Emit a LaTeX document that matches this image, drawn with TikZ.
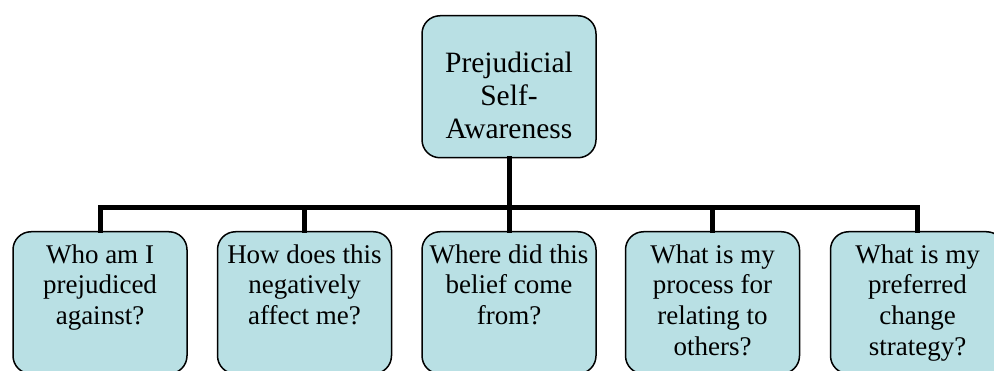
\documentclass[tikz,border=0pt]{standalone}
\usepackage{fontspec}
\setmainfont{Liberation Serif}
\definecolor{boxfill}{RGB}{185,224,228}
\begin{document}
\begin{tikzpicture}[x=1pt,y=-1pt,
  box/.style={draw=black,line width=1.5pt,fill=boxfill,rounded corners=18pt,
    minimum width=174pt,minimum height=142pt,inner sep=0pt,anchor=north},
  toptext/.style={anchor=north,inner sep=0pt,align=center,font=\fontsize{29.5}{33}\selectfont},
  bottext/.style={anchor=north,inner sep=0pt,align=center,font=\fontsize{27}{30.7}\selectfont},
  conn/.style={line width=5pt,line join=miter,line cap=rect}]
\clip (0,0) rectangle (994,371);
\fill[white] (0,0) rectangle (994,371);
% boxes
\node[box] (top) at (509,15) {};
\node[box] (b1) at (100,231) {};
\node[box] (b2) at (304.5,231) {};
\node[box] (b3) at (509,231) {};
\node[box] (b4) at (712.5,231) {};
\node[box] (b5) at (917.5,231) {};
% texts
\node[toptext] (ttop) at (509,50) {\rule{0pt}{22pt}Prejudicial\\Self-\\Awareness};
\node[bottext] (t1) at (100,243) {\rule{0pt}{20pt}Who am I\\prejudiced\\against?};
\node[bottext] (t2) at (304.5,243) {\rule{0pt}{20pt}How does this\\negatively\\affect me?};
\node[bottext] (t3) at (509,243) {\rule{0pt}{20pt}Where did this\\belief come\\from?};
\node[bottext] (t4) at (712.5,243) {\rule{0pt}{20pt}What is my\\process for\\relating to\\others?};
\node[bottext] (t5) at (917.5,243) {\rule{0pt}{20pt}What is my\\preferred\\change\\strategy?};
% connectors
\coordinate (bus) at (509,207.5);
\draw[conn] (top.south) -- (bus);
\draw[conn] (b1.north) -- (b1.north |- bus) -- (b5.north |- bus) -- (b5.north);
\draw[conn] (b2.north) -- (b2.north |- bus);
\draw[conn] (b3.north) -- (b3.north |- bus);
\draw[conn] (b4.north) -- (b4.north |- bus);
\end{tikzpicture}
\end{document}
